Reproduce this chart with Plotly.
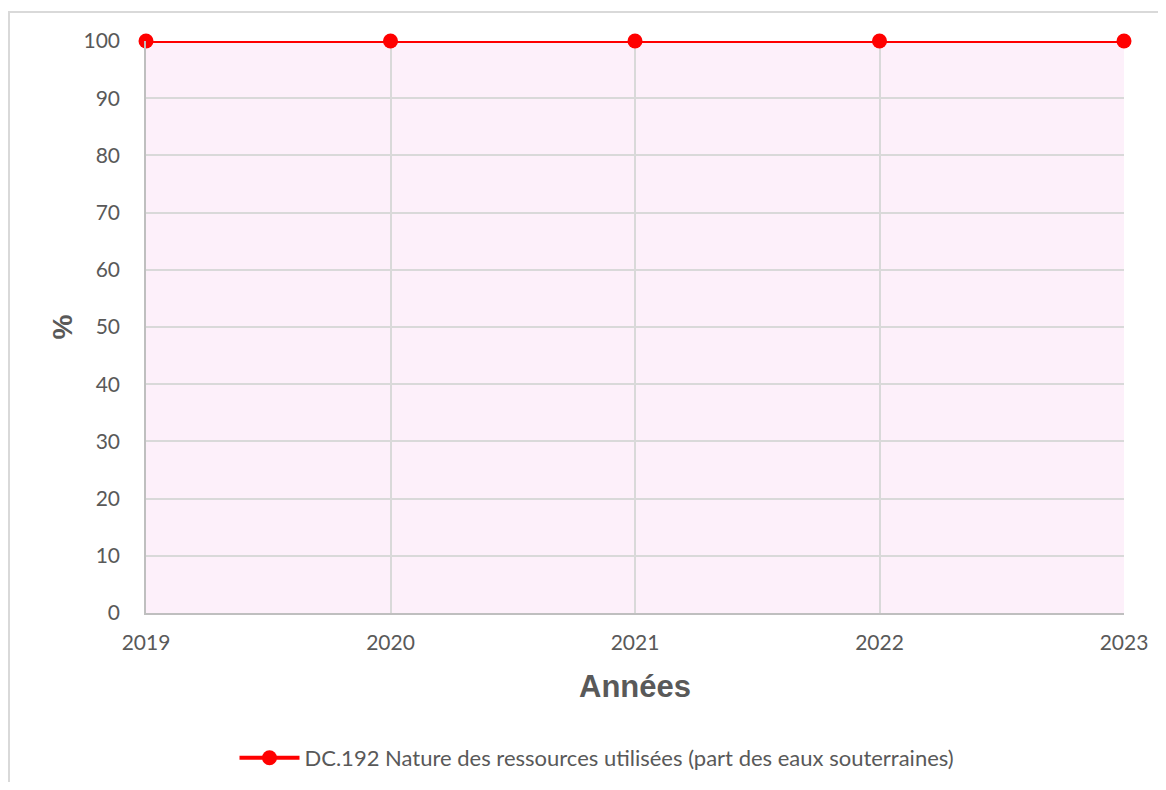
import plotly.graph_objects as go

# data
years = [2019, 2020, 2021, 2022, 2023]
part_eaux_souterraines = [100, 100, 100, 100, 100]
y_ticks = [0, 10, 20, 30, 40, 50, 60, 70, 80, 90, 100]
serie_name = "DC.192 Nature des ressources utilisées (part des eaux souterraines)"

fig = go.Figure()
fig.add_trace(go.Scatter(
    x=years, y=part_eaux_souterraines, name=serie_name,
    mode="lines+markers", cliponaxis=False,
    line=dict(color="#FF0000", width=4),
    marker=dict(size=15, color="#FF0000"),
))

# page body has an 8px margin, so the figure is a bit smaller than the window
OFF = 8
W, H = 1150, 774
L, R, T, B = 138, 34, 33, 169
pw, ph = W - L - R, H - T - B

def px_x(p):
    return (p - OFF - L) / pw

def px_y(p):
    return 1 - (p - OFF - T) / ph

fig.update_layout(
    width=W, height=H,
    margin=dict(l=L, r=R, t=T, b=B, autoexpand=False),
    paper_bgcolor="white",
    plot_bgcolor="#FDF0FA",
    font=dict(family="Lato, Open Sans, sans-serif", size=21, color="#595959"),
    showlegend=True,
    legend=dict(orientation="h", x=px_x(597), xanchor="center",
                yref="container", y=1 - (758 - OFF) / H, yanchor="middle",
                itemwidth=60, font=dict(size=22, color="#595959")),
    xaxis=dict(
        range=[2019, 2023], tickvals=years, ticktext=[str(y) for y in years],
        showgrid=True, gridcolor="#D9D9D9", gridwidth=1.5,
        showline=True, linecolor="#BFBFBF", linewidth=1.5,
        zeroline=False, ticks="", ticklabelstandoff=10, automargin=False,
        title=dict(text="<b>Années</b>", font=dict(family="Liberation Sans, Arial", size=31, color="#595959"),
                   standoff=22),
    ),
    yaxis=dict(
        range=[0, 100], tickvals=y_ticks,
        showgrid=True, gridcolor="#D9D9D9", gridwidth=1.5,
        showline=True, linecolor="#BFBFBF", linewidth=1.5,
        zeroline=False, ticks="", ticklabelstandoff=20, automargin=False,
        title=dict(text="<b>%</b>", font=dict(family="Liberation Sans, Arial", size=28, color="#595959"),
                   standoff=3),
    ),
    shapes=[dict(type="rect", xref="paper", yref="paper",
                 x0=px_x(9), x1=px_x(1200), y0=px_y(830), y1=px_y(12),
                 line=dict(color="#D9D9D9", width=2), fillcolor="rgba(0,0,0,0)", layer="below")],
)

fig.write_html("out.html")
